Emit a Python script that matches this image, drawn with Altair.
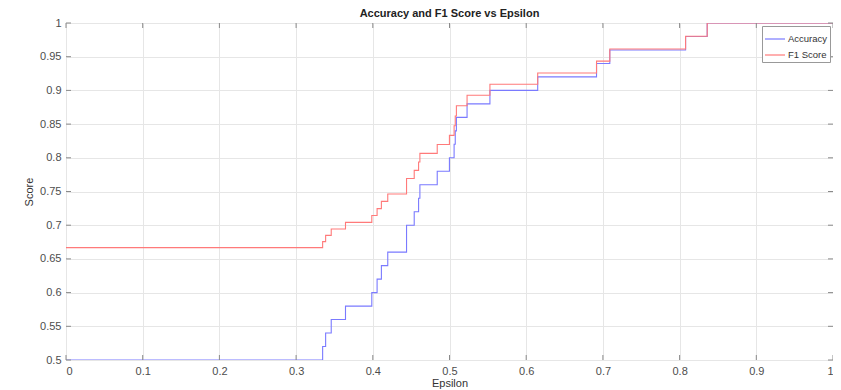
import altair as alt
import pandas as pd

# Step positions (epsilon) and the values that start there
epsilon = [0.0, 0.3346, 0.3385, 0.3458, 0.3644, 0.3987, 0.4056, 0.4112, 0.4195,
           0.4440, 0.4540, 0.4597, 0.4614, 0.4840, 0.4999, 0.5060, 0.5075, 0.5090,
           0.5229, 0.5527, 0.6150, 0.6917, 0.7090, 0.8078, 0.8360, 1.0]
accuracy = [0.50, 0.52, 0.54, 0.56, 0.58, 0.60, 0.62, 0.64, 0.66,
            0.70, 0.72, 0.74, 0.76, 0.78, 0.80, 0.82, 0.84, 0.86,
            0.88, 0.90, 0.92, 0.94, 0.96, 0.98, 1.00, 1.00]
f1_score = [0.6667, 0.6757, 0.6849, 0.6944, 0.7042, 0.7143, 0.7246, 0.7353, 0.7463,
            0.7692, 0.7813, 0.7937, 0.8065, 0.8197, 0.8333, 0.8475, 0.8621, 0.8772,
            0.8929, 0.9091, 0.9259, 0.9434, 0.9615, 0.9804, 1.0, 1.0]

x_ticks = [0, 0.1, 0.2, 0.3, 0.4, 0.5, 0.6, 0.7, 0.8, 0.9, 1]
y_ticks = [0.5, 0.55, 0.6, 0.65, 0.7, 0.75, 0.8, 0.85, 0.9, 0.95, 1]

W, H = 767, 337

rows = []
for e, a in zip(epsilon, accuracy):
    rows.append({"Epsilon": e, "Score": a, "Series": "Accuracy"})
for e, f in zip(epsilon, f1_score):
    rows.append({"Epsilon": e, "Score": f, "Series": "F1 Score"})
df = pd.DataFrame(rows)

xscale = alt.Scale(domain=[0, 1], nice=False, zero=False)
yscale = alt.Scale(domain=[0.5, 1], nice=False, zero=False)

x_axis = alt.Axis(values=x_ticks, format="~g", title="Epsilon", grid=True,
                  gridColor="#e6e6e6", ticks=False, domain=False, labelOverlap=False,
                  labelFont="Liberation Sans", labelFontSize=11, labelColor="#4d4d4d",
                  labelPadding=5, titleFont="Liberation Sans", titleFontSize=11,
                  titleFontWeight="normal", titleColor="#333333", titlePadding=1)
y_axis = alt.Axis(values=y_ticks, format="~g", title="Score", grid=True,
                  gridColor="#e6e6e6", ticks=False, domain=False, labelOverlap=False,
                  labelFont="Liberation Sans", labelFontSize=11, labelColor="#4d4d4d",
                  labelPadding=5, titleFont="Liberation Sans", titleFontSize=11,
                  titleFontWeight="normal", titleColor="#333333", titlePadding=5)

lines = alt.Chart(df).mark_line(interpolate="step-after", strokeWidth=1.1, clip=True).encode(
    x=alt.X("Epsilon:Q", scale=xscale, axis=x_axis),
    y=alt.Y("Score:Q", scale=yscale, axis=y_axis),
    color=alt.Color("Series:N",
                    scale=alt.Scale(domain=["Accuracy", "F1 Score"], range=["#7a7aff", "#ff7a7a"]),
                    legend=alt.Legend(title=None, orient="top-right", offset=3,
                                      symbolType="stroke", symbolSize=400, symbolStrokeWidth=1.2,
                                      labelFont="Liberation Sans", labelFontSize=9.5,
                                      labelColor="#333333", strokeColor="#999999",
                                      fillColor="white", padding=2, rowPadding=0,
                                      labelOffset=2, symbolOffset=0)),
)

xt = pd.DataFrame({"t": x_ticks})
yt = pd.DataFrame({"t": y_ticks})
tick_color = "#8a8a8a"
xb = alt.Chart(xt).mark_rule(color=tick_color, strokeWidth=1).encode(
    x=alt.X("t:Q", scale=xscale, axis=x_axis, title="Epsilon"), y=alt.value(H), y2=alt.value(H - 5))
xtop = alt.Chart(xt).mark_rule(color=tick_color, strokeWidth=1).encode(
    x=alt.X("t:Q", scale=xscale, axis=x_axis, title="Epsilon"), y=alt.value(0), y2=alt.value(5))
yl = alt.Chart(yt).mark_rule(color=tick_color, strokeWidth=1).encode(
    y=alt.Y("t:Q", scale=yscale, axis=y_axis, title="Score"), x=alt.value(0), x2=alt.value(5))
yr = alt.Chart(yt).mark_rule(color=tick_color, strokeWidth=1).encode(
    y=alt.Y("t:Q", scale=yscale, axis=y_axis, title="Score"), x=alt.value(W - 5), x2=alt.value(W))

chart = alt.layer(lines, xb, xtop, yl, yr).properties(
    width=W, height=H,
    autosize=alt.AutoSizeParams(type="none"),
    padding={"left": 58, "top": 15, "right": 0, "bottom": 30},
    title=alt.Title("Accuracy and F1 Score vs Epsilon", font="Liberation Sans",
                    fontSize=11, fontWeight="bold", color="#222222", offset=-2),
).configure_view(stroke="#8a8a8a", strokeWidth=1).configure(background="white")

chart.save("out.html", embed_options={"renderer": "svg", "actions": False})
